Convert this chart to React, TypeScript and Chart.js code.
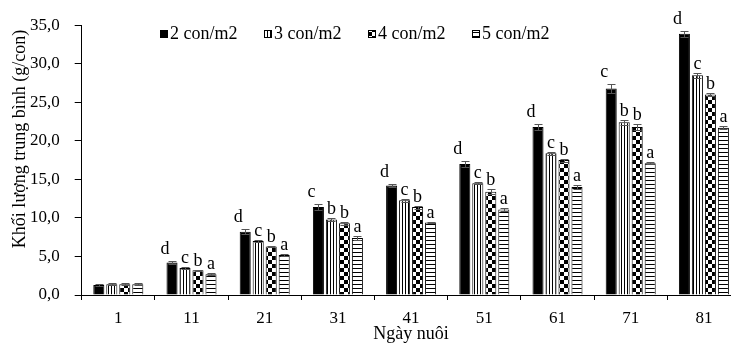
import { useEffect, useRef } from 'react';
import { Chart, registerables } from 'chart.js';

Chart.register(...registerables);

// ---- Data ----
const days = ['1', '11', '21', '31', '41', '51', '61', '71', '81'];
const seriesNames = ['2 con/m2', '3 con/m2', '4 con/m2', '5 con/m2'];

const mass2 = [1.3, 4.2, 8.2, 11.4, 14.2, 17.0, 21.8, 26.8, 33.9];
const mass3 = [1.4, 3.5, 7.0, 9.8, 12.3, 14.5, 18.4, 22.4, 28.5];
const mass4 = [1.4, 3.2, 6.3, 9.3, 11.4, 13.4, 17.5, 21.8, 26.0];
const mass5 = [1.4, 2.7, 5.2, 7.4, 9.4, 11.1, 14.0, 17.1, 21.7];

const err2 = [0.1, 0.2, 0.3, 0.4, 0.2, 0.4, 0.4, 0.6, 0.4];
const err3 = [0.1, 0.1, 0.1, 0.2, 0.2, 0.1, 0.2, 0.3, 0.3];
const err4 = [0.1, 0.1, 0.1, 0.2, 0.2, 0.3, 0.2, 0.4, 0.2];
const err5 = [0.1, 0.1, 0.1, 0.3, 0.1, 0.2, 0.3, 0.1, 0.2];

const sig2 = ['', 'd', 'd', 'c', 'd', 'd', 'd', 'c', 'd'];
const sig3 = ['', 'c', 'c', 'b', 'c', 'c', 'c', 'b', 'c'];
const sig4 = ['', 'b', 'b', 'b', 'b', 'b', 'b', 'b', 'b'];
const sig5 = ['', 'a', 'a', 'a', 'a', 'a', 'a', 'a', 'a'];

const yTickValues = [0, 5, 10, 15, 20, 25, 30, 35];
const yTitle = 'Khối lượng trung bình (g/con)';
const xTitle = 'Ngày nuôi';

const allValues = [mass2, mass3, mass4, mass5];
const allErrors = [err2, err3, err4, err5];
const allSig = [sig2, sig3, sig4, sig5];

const FONT = "'Liberation Serif', 'Times New Roman', serif";

function makePattern(kind: string): any {
  if (kind === 'solid') return '#000000';
  const c = document.createElement('canvas');
  const g = c.getContext('2d')!;
  if (kind === 'vert') {
    c.width = 3; c.height = 1;
    g.fillStyle = '#fff'; g.fillRect(0, 0, 3, 1);
    g.fillStyle = '#000'; g.fillRect(0, 0, 1, 1);
  } else if (kind === 'check') {
    c.width = 8; c.height = 8;
    g.fillStyle = '#fff'; g.fillRect(0, 0, 8, 8);
    g.fillStyle = '#000'; g.fillRect(0, 0, 4, 4); g.fillRect(4, 4, 4, 4);
  } else {
    c.width = 1; c.height = 4;
    g.fillStyle = '#fff'; g.fillRect(0, 0, 1, 4);
    g.fillStyle = '#000'; g.fillRect(0, 0, 1, 1);
  }
  const tmp = document.createElement('canvas').getContext('2d')!;
  return tmp.createPattern(c, 'repeat');
}

export default function App() {
  const ref = useRef<HTMLCanvasElement | null>(null);

  useEffect(() => {
    if (!ref.current) return;
    const fills = ['solid', 'vert', 'check', 'horiz'].map(makePattern);

    const overlay = {
      id: 'overlay',
      afterDatasetsDraw(chart: any) {
        const ctx = chart.ctx as CanvasRenderingContext2D;
        const ys = chart.scales.y;
        const area = chart.chartArea;
        ctx.save();
        // error bars + letters
        chart.data.datasets.forEach((ds: any, di: number) => {
          const meta = chart.getDatasetMeta(di);
          meta.data.forEach((bar: any, i: number) => {
            const v = ds.data[i];
            const e = allErrors[di][i];
            const x = Math.round(bar.x) + 0.5;
            const yt = Math.round(ys.getPixelForValue(v + e)) + 0.5;
            const yb = Math.round(ys.getPixelForValue(v - e)) + 0.5;
            ctx.strokeStyle = '#555555';
            ctx.lineWidth = 1;
            ctx.beginPath();
            ctx.moveTo(x, yt); ctx.lineTo(x, yb);
            ctx.moveTo(x - 4, yt); ctx.lineTo(x + 4, yt);
            ctx.moveTo(x - 4, yb); ctx.lineTo(x + 4, yb);
            ctx.stroke();
            const s = allSig[di][i];
            if (s) {
              ctx.fillStyle = '#000';
              ctx.font = `18px ${FONT}`;
              ctx.textAlign = 'center';
              ctx.textBaseline = 'alphabetic';
              ctx.fillText(s, bar.x + (di === 0 ? -7 : 0), yt - (di === 0 ? 8 : 5));
            }
          });
        });
        // legend
        ctx.font = `18px ${FONT}`;
        ctx.textBaseline = 'middle';
        ctx.textAlign = 'left';
        seriesNames.forEach((name, i) => {
          const bx = 160 + i * 104;
          const by = 30;
          ctx.fillStyle = '#000';
          ctx.fillRect(bx, by, 8, 8);
          ctx.fillStyle = fills[i];
          ctx.fillRect(bx + 1, by + 1, 6, 6);
          ctx.fillStyle = '#000';
          ctx.fillText(name, bx + 10, 34);
        });
        // axis titles
        ctx.fillStyle = '#000';
        ctx.font = `18px ${FONT}`;
        ctx.textAlign = 'center';
        ctx.textBaseline = 'middle';
        ctx.fillText(xTitle, (area.left + area.right) / 2, 334);
        ctx.translate(20, 139);
        ctx.rotate(-Math.PI / 2);
        ctx.fillText(yTitle, 0, 0);
        ctx.restore();
      },
    };

    const chart = new Chart(ref.current, {
      type: 'bar',
      data: {
        labels: days,
        datasets: seriesNames.map((name, i) => ({
          label: name,
          data: allValues[i],
          backgroundColor: fills[i],
          borderColor: '#000000',
          borderWidth: 1,
          categoryPercentage: 0.71,
          barPercentage: 0.85,
        })),
      },
      options: {
        animation: false,
        responsive: false,
        devicePixelRatio: 1,
        layout: { padding: { left: 0, right: 4.5, top: 14, bottom: 0 } },
        plugins: {
          legend: { display: false },
          tooltip: { enabled: false },
        },
        scales: {
          x: {
            grid: { display: true, drawOnChartArea: false, drawTicks: true, tickLength: 5, color: '#000', offset: true },
            border: { display: true, color: '#000' },
            ticks: { color: '#000', font: { family: FONT, size: 17 }, padding: 8, maxRotation: 0, autoSkip: false },
            afterFit: (s: any) => { s.height = 50; },
          },
          y: {
            min: 0,
            max: 35,
            afterBuildTicks: (s: any) => { s.ticks = yTickValues.map((v) => ({ value: v })); },
            grid: { display: true, drawOnChartArea: false, drawTicks: true, tickLength: 7, color: '#000' },
            border: { display: true, color: '#000' },
            ticks: {
              color: '#000',
              font: { family: FONT, size: 17 },
              padding: 15,
              callback: (v: any) => Number(v).toFixed(1).replace('.', ','),
            },
            afterFit: (s: any) => { s.width = 81.7; },
          },
        },
      },
      plugins: [overlay],
    });
    return () => chart.destroy();
  }, []);

  return (
    <div style={{ position: 'fixed', left: 0, top: 0, width: 731, height: 345, overflow: 'hidden', background: '#fff' }}>
      <canvas ref={ref} width={745} height={345} style={{ display: 'block' }} />
    </div>
  );
}
